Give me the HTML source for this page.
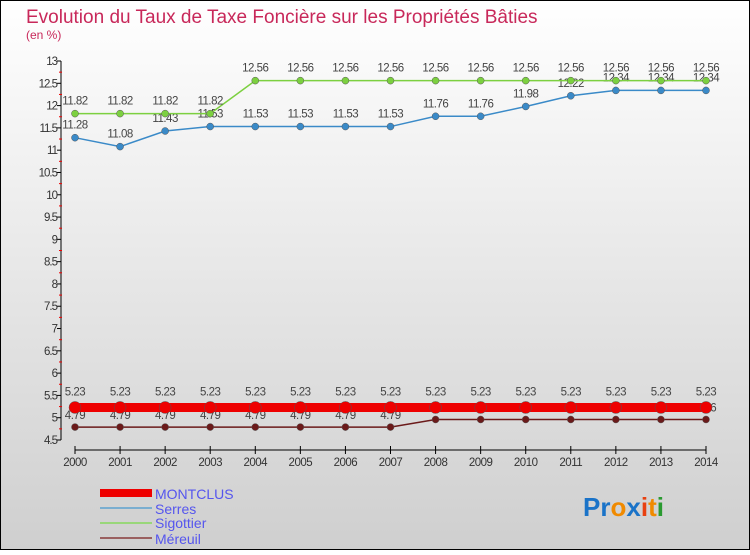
<!DOCTYPE html>
<html><head><meta charset="utf-8"><style>
body{margin:0;width:750px;height:550px;overflow:hidden;font-family:"Liberation Sans",sans-serif}
</style></head><body>
<svg width="750" height="550" xmlns="http://www.w3.org/2000/svg">
<defs><linearGradient id="bg" x1="0" y1="0" x2="0" y2="1"><stop offset="0" stop-color="#ffffff"/><stop offset="1" stop-color="#cfcfcf"/></linearGradient></defs>
<rect x="0.5" y="0.5" width="749" height="549" fill="url(#bg)" stroke="#000"/>
<text x="26" y="23" font-size="19" fill="#c8285a">Evolution du Taux de Taxe Foncière sur les Propriétés Bâties</text>
<text x="26" y="39" font-size="12" fill="#c8285a">(en %)</text>
<g id="axes"></g>
<g id="series"></g>
<g>
<rect x="100" y="489" width="52" height="8" fill="#e00"/>
<text x="155" y="499" font-size="14" fill="#5555ee">MONTCLUS</text>
<rect x="100" y="507" width="52" height="2" fill="#7aaed0"/>
<text x="155" y="514" font-size="14" fill="#5555ee">Serres</text>
<rect x="100" y="522" width="52" height="2" fill="#99d77a"/>
<text x="155" y="528" font-size="14" fill="#5555ee">Sigottier</text>
<rect x="100" y="537" width="52" height="2" fill="#9a6060"/>
<text x="155" y="544" font-size="14" fill="#5555ee">Méreuil</text>
</g>
<text x="583" y="516" font-size="26" font-weight="bold"><tspan fill="#1a73c8">Pr</tspan><tspan fill="#f08a00">o</tspan><tspan fill="#1a73c8">x</tspan><tspan fill="#e84010">i</tspan><tspan fill="#f08a00">t</tspan><tspan fill="#2a9a30">i</tspan></text>
</svg>
<script>
const years=[2000,2001,2002,2003,2004,2005,2006,2007,2008,2009,2010,2011,2012,2013,2014];
const yTicks=[4.5,5,5.5,6,6.5,7,7.5,8,8.5,9,9.5,10,10.5,11,11.5,12,12.5,13];
const montclus=[5.23,5.23,5.23,5.23,5.23,5.23,5.23,5.23,5.23,5.23,5.23,5.23,5.23,5.23,5.23];
const serres=[11.28,11.08,11.43,11.53,11.53,11.53,11.53,11.53,11.76,11.76,11.98,12.22,12.34,12.34,12.34];
const sigottier=[11.82,11.82,11.82,11.82,12.56,12.56,12.56,12.56,12.56,12.56,12.56,12.56,12.56,12.56,12.56];
const mereuil=[4.79,4.79,4.79,4.79,4.79,4.79,4.79,4.79,4.96,4.96,4.96,4.96,4.96,4.96,4.96];
const NS='http://www.w3.org/2000/svg';
const X=i=>75+i*(706-75)/(years.length-1);
const Y=v=>440-(v-4.5)*(379/8.5);
function mk(tag,attrs,parent,txt){const e=document.createElementNS(NS,tag);for(const k in attrs)e.setAttribute(k,attrs[k]);if(txt!==undefined)e.textContent=txt;parent.appendChild(e);return e;}
const ax=document.getElementById('axes');
let e=mk('line',{x1:61,y1:Y(13),x2:61,y2:Y(4.5),stroke:'#000'},ax);


yTicks.forEach(v=>{
 mk('line',{x1:57,y1:Y(v),x2:61,y2:Y(v),stroke:'#000'},ax);
 if(v<13)mk('line',{x1:59,y1:Y(v+0.25),x2:62,y2:Y(v+0.25),stroke:'#e00'},ax);
 const t=mk('text',{x:57,y:Y(v)+4,'font-size':11.5,'text-anchor':'end',fill:'#333','letter-spacing':'-1'},ax,String(v));
 
 
});
e=mk('line',{x1:X(0),y1:450,x2:X(years.length-1),y2:450,stroke:'#000'},ax);


years.forEach((y,i)=>{
 mk('line',{x1:X(i),y1:446,x2:X(i),y2:454,stroke:'#000'},ax);
 const t=mk('text',{x:X(i),y:466,'font-size':11.5,'text-anchor':'middle',fill:'#333','letter-spacing':'-0.5'},ax,String(y));
 
 
});
const sg=document.getElementById('series');
function series(name,vals,color,w,r,lblOff){
 const g=mk('g',{},sg);
 
 
 mk('polyline',{points:vals.map((v,i)=>X(i)+','+Y(v)).join(' '),fill:'none',stroke:color,'stroke-width':w},g);
 vals.forEach((v,i)=>{
  const c=mk('circle',{cx:X(i),cy:Y(v),r:r,fill:color,stroke:'#555','stroke-width':0.5},g);
  
  
  const t=mk('text',{x:X(i),y:Y(v)+lblOff,'font-size':11.5,'text-anchor':'middle',fill:'#444','letter-spacing':'-0.5'},g,String(v));
  
  
 });
}
series('mereuil',mereuil,'#6b1a1a',1.5,3.5,-8);
series('serres',serres,'#3a8ac8',1.5,3.5,-9);
series('sigottier',sigottier,'#7cd040',1.5,3.5,-9);
series('montclus',montclus,'#ee0000',9,6,-12);
</script>
</body></html>
